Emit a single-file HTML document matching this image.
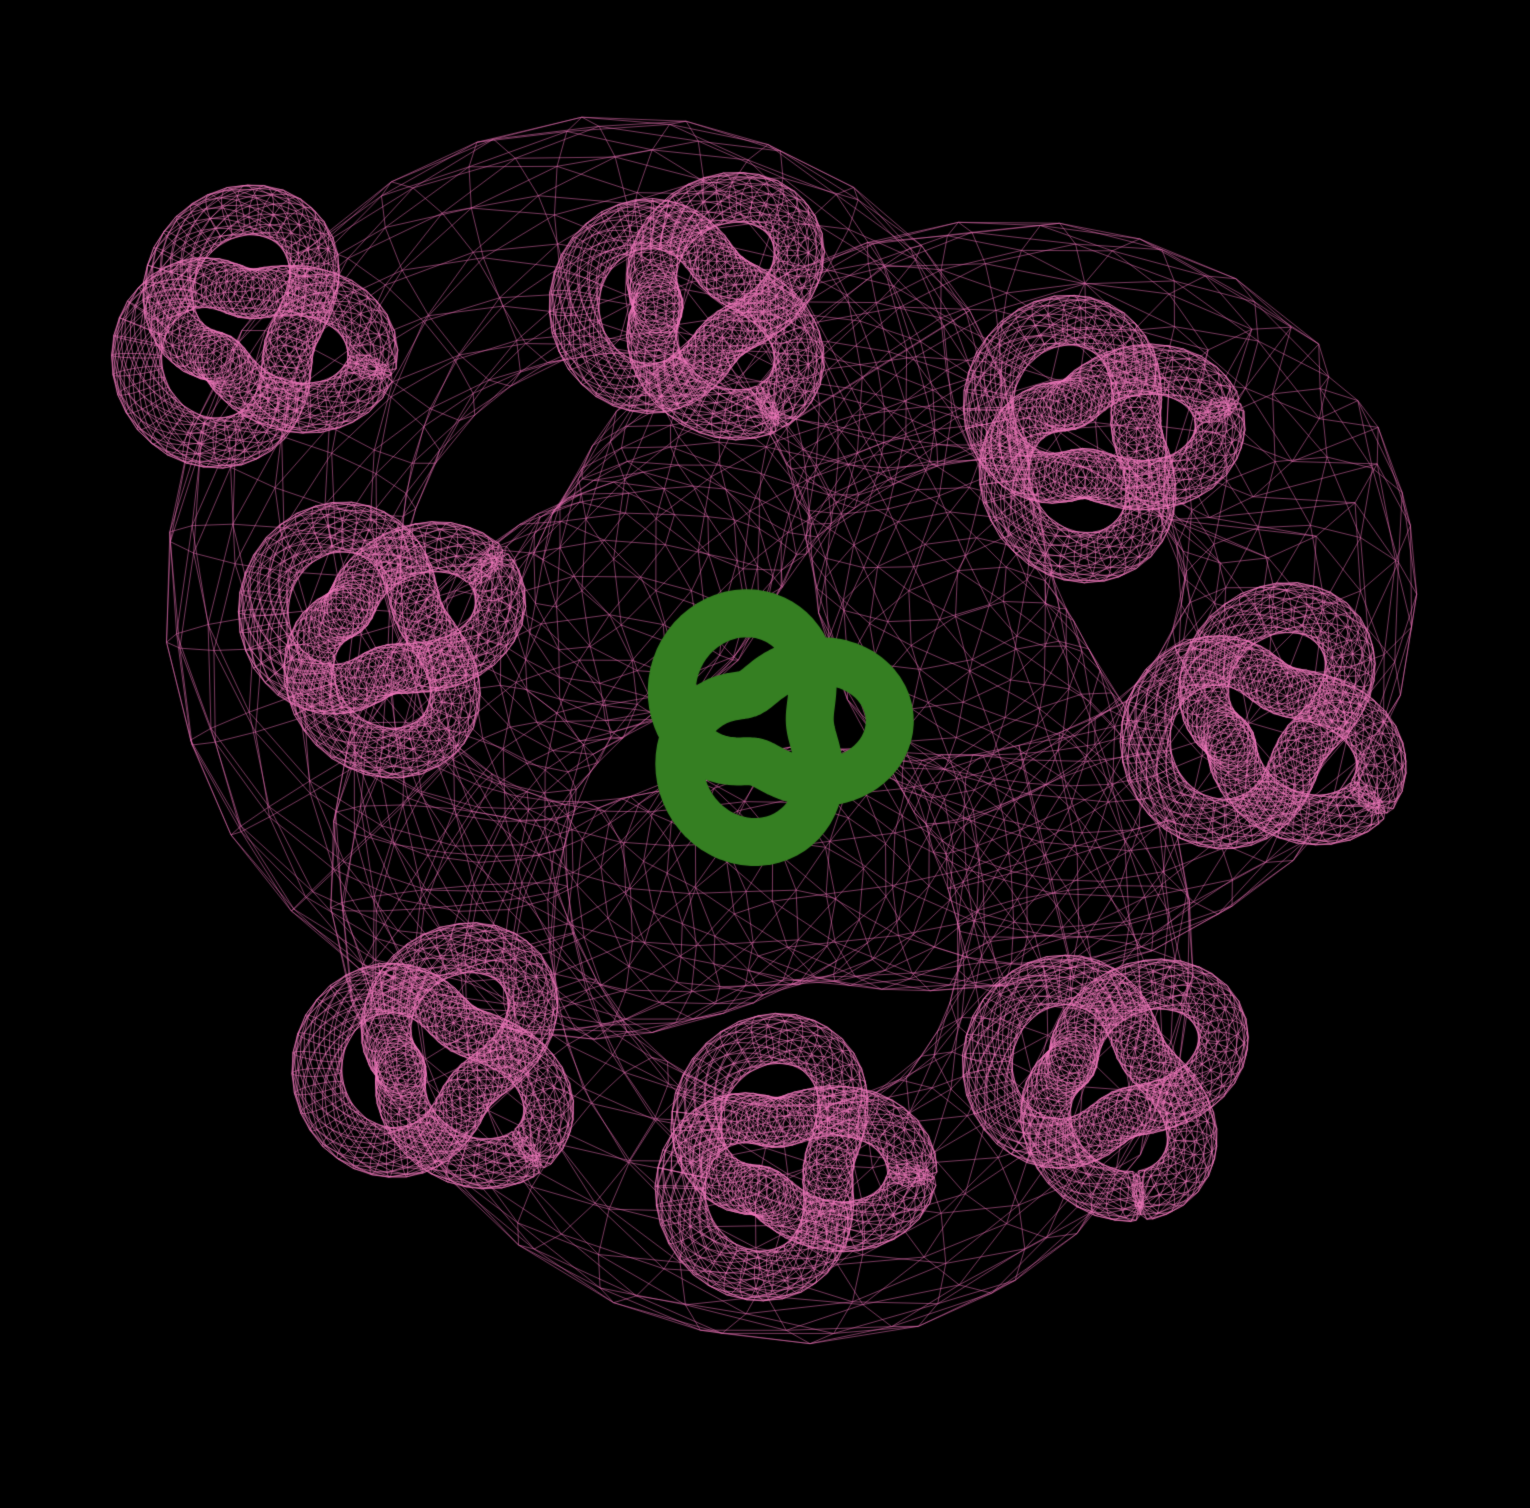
<!DOCTYPE html>
<html><head><meta charset="utf-8"><title>Wireframe knots</title>
<style>html,body{margin:0;padding:0;background:#000;}canvas{display:block;}</style>
</head><body>
<div style="width:1530px;height:1508px;position:relative;background:#000">
<canvas id="c" width="1530" height="1508"></canvas>
</div>
<script>
// small knot centres (x, y), sizes and orientations
const smallX = [250, 700, 1095, 1268, 1110, 787, 442, 382];
const smallY = [332, 306, 436, 726, 1078, 1160, 1062, 632];
const smallPhi = [20, 60, -10, 40, 80, 10, 50, -30];
const bigCenter = [781, 697];
const greenCenter = [770, 726];

const ctx = document.getElementById('c').getContext('2d');
function tref(t){const r=2+Math.cos(3*t);return [r*Math.cos(2*t), r*Math.sin(2*t), Math.sin(3*t)];}
function sub(a,b){return [a[0]-b[0],a[1]-b[1],a[2]-b[2]];}
function cross(a,b){return [a[1]*b[2]-a[2]*b[1],a[2]*b[0]-a[0]*b[2],a[0]*b[1]-a[1]*b[0]];}
function norm(a){const l=Math.hypot(a[0],a[1],a[2])||1;return [a[0]/l,a[1]/l,a[2]/l];}
function proj(p,cx,cy,s,phi,tilt){
  const c=Math.cos(phi),sn=Math.sin(phi);
  let x=p[0]*c-p[1]*sn, y=p[0]*sn+p[1]*c, z=p[2];
  const ct=Math.cos(tilt),st=Math.sin(tilt);
  const y2=y*ct-z*st;
  return [cx+x*s, cy+y2*s];
}
function tube(cx,cy,s,r,phi,tilt,N,M,color,lw,alpha){
  const pts=[];
  for(let i=0;i<N;i++){
    const t=i/N*2*Math.PI, P=tref(t), P2=tref(t+0.001);
    const T=norm(sub(P2,P)); const Nn=norm(cross(T,[0,0,1])); const B=cross(T,Nn);
    const ring=[];
    for(let j=0;j<M;j++){const a=j/M*2*Math.PI+i*0.15;
      ring.push(proj([P[0]+r*(Math.cos(a)*Nn[0]+Math.sin(a)*B[0]),P[1]+r*(Math.cos(a)*Nn[1]+Math.sin(a)*B[1]),P[2]+r*(Math.cos(a)*Nn[2]+Math.sin(a)*B[2])],cx,cy,s,phi,tilt));}
    pts.push(ring);
  }
  ctx.strokeStyle=color;ctx.lineWidth=lw;ctx.globalAlpha=alpha;ctx.beginPath();
  for(let i=0;i<N;i++){const A=pts[i],Bb=pts[(i+1)%N];
    for(let j=0;j<M;j++){const p=A[j],q=A[(j+1)%M],u=Bb[j];
      ctx.moveTo(p[0],p[1]);ctx.lineTo(q[0],q[1]);
      ctx.moveTo(p[0],p[1]);ctx.lineTo(u[0],u[1]);
      ctx.moveTo(q[0],q[1]);ctx.lineTo(u[0],u[1]);}}
  ctx.stroke();ctx.globalAlpha=1;
}
// big wireframe knot
tube(bigCenter[0],bigCenter[1],180,0.66,-25*Math.PI/180,0.25,90,14,'#e870b4',0.7,0.75);
// small knots
for(let k=0;k<smallX.length;k++){
  tube(smallX[k],smallY[k],42,0.6,smallPhi[k]*Math.PI/180,0.3,110,14,'#f078bc',0.7,0.85);
}
// green solid knot
ctx.strokeStyle='#357f22';ctx.lineWidth=48;ctx.lineCap='round';ctx.lineJoin='round';ctx.beginPath();
for(let i=0;i<=200;i++){const t=i/200*2*Math.PI;const p=proj(tref(t),greenCenter[0],greenCenter[1],40,-5*Math.PI/180,0.2);
  if(i===0)ctx.moveTo(p[0],p[1]);else ctx.lineTo(p[0],p[1]);}
ctx.stroke();
</script>
</body></html>
